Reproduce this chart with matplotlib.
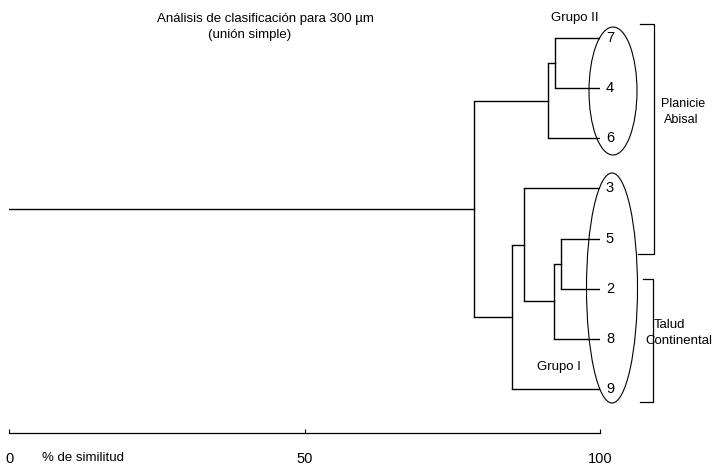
import matplotlib
matplotlib.use("Agg")
import matplotlib.pyplot as plt
from matplotlib.patches import Ellipse

plt.rcParams['font.family'] = ['Liberation Sans', 'DejaVu Sans']

# ---- data ----
leaf_labels = ['7', '4', '6', '3', '5', '2', '8', '9']   # top to bottom
# merges: (child_a, child_b, similarity %); indices >= 8 are earlier merges
merge_a = [0, 8, 4, 10, 3, 12, 9]
merge_b = [1, 2, 5, 6, 11, 7, 13]
merge_sim = [92.4, 91.2, 93.4, 92.2, 87.1, 85.1, 78.7]
x_ticks = [0, 50, 100]
x_tick_labels = ['0', '50', '100']

W, H = 716, 474
fig = plt.figure(figsize=(W / 100, H / 100), dpi=100)

# main axes: x = similarity, y = leaf index
px0, px100 = 9, 600
leaf_top, leaf_step = 38, 50.14
axis_py = 433
ax = fig.add_axes([px0 / W, (H - axis_py) / H, (px100 - px0) / W, axis_py / H])
ax.set_xlim(0, 100)
ax.set_ylim((axis_py - leaf_top) / leaf_step, (0 - leaf_top) / leaf_step)

n = len(leaf_labels)
node_x = {i: 100.0 for i in range(n)}
node_y = {i: float(i) for i in range(n)}
lw = 1.0
for k, (a, b, s) in enumerate(zip(merge_a, merge_b, merge_sim)):
    idx = n + k
    ax.plot([s, s], [node_y[a], node_y[b]], color='black', lw=lw, solid_capstyle='butt')
    ax.plot([s, node_x[a]], [node_y[a], node_y[a]], color='black', lw=lw)
    ax.plot([s, node_x[b]], [node_y[b], node_y[b]], color='black', lw=lw)
    node_x[idx] = s
    node_y[idx] = (node_y[a] + node_y[b]) / 2
root = n + len(merge_sim) - 1
ax.plot([0, node_x[root]], [node_y[root], node_y[root]], color='black', lw=lw)

for i, lab in enumerate(leaf_labels):
    ax.text(101.0, i, lab, ha='left', va='center', fontsize=10.5)

for sp in ['top', 'right', 'left']:
    ax.spines[sp].set_visible(False)
ax.spines['bottom'].set_linewidth(0.9)
ax.set_yticks([])
ax.set_xticks(x_ticks)
ax.set_xticklabels(x_tick_labels, fontsize=10.5)
ax.tick_params(axis='x', direction='in', length=3, pad=14, width=0.8)
ax.patch.set_alpha(0)

# overlay axes in pixel coordinates for annotations
ov = fig.add_axes([0, 0, 1, 1])
ov.set_xlim(0, W)
ov.set_ylim(H, 0)
ov.axis('off')
ov.patch.set_alpha(0)

ov.add_patch(Ellipse((613, 91), 48, 128, fill=False, lw=0.8, ec='black'))
ov.add_patch(Ellipse((612, 288), 51, 230, fill=False, lw=0.8, ec='black'))

ov.plot([640, 654, 654, 638], [24, 24, 254, 254], color='black', lw=0.9)
ov.plot([643, 653, 653, 640], [279, 279, 402, 402], color='black', lw=0.9)

fs = 9.5
ov.text(683, 104, 'Planicie', ha='center', va='center', fontsize=9)
ov.text(681, 120, 'Abisal', ha='center', va='center', fontsize=9)
ov.text(670, 325, 'Talud', ha='center', va='center', fontsize=fs)
ov.text(679, 341, 'Continental', ha='center', va='center', fontsize=fs)
ov.text(575, 18, 'Grupo II', ha='center', va='center', fontsize=fs)
ov.text(559, 367, 'Grupo I', ha='center', va='center', fontsize=fs)
ov.text(265, 19, 'Análisis de clasificación para 300 µm', ha='center', va='center', fontsize=fs)
ov.text(250, 35, '(unión simple)', ha='center', va='center', fontsize=fs)
ov.text(42, 458, '% de similitud', ha='left', va='center', fontsize=fs)

fig.savefig('out.png', dpi=100)
